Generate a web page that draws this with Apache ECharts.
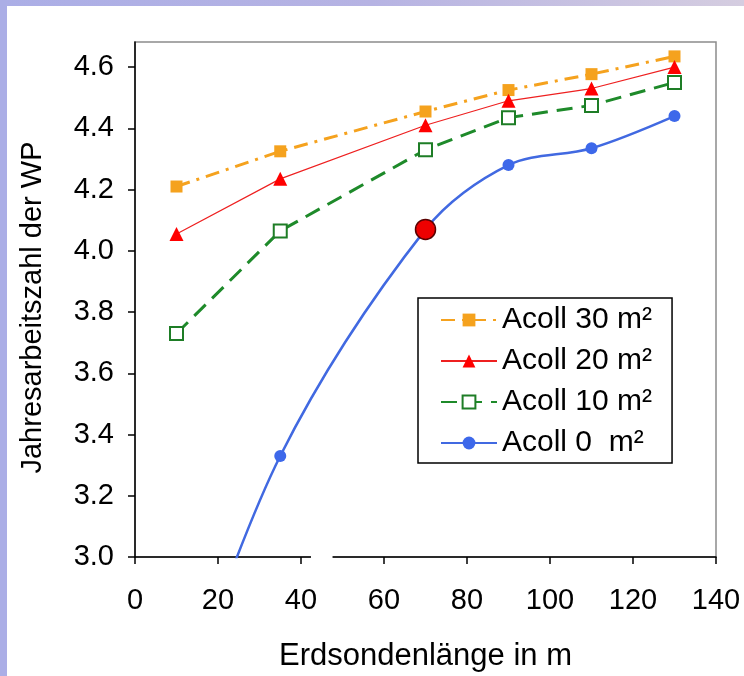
<!DOCTYPE html>
<html>
<head>
<meta charset="utf-8">
<script src="https://cdn.jsdelivr.net/npm/echarts@6/dist/echarts.min.js"></script>
<style>
html,body{margin:0;padding:0;background:#fff;}
#c{width:744px;height:676px;}
</style>
</head>
<body>
<div id="c"></div>
<script>
const xValues = [10, 35, 70, 90, 110, 130];
const acoll30 = [4.21, 4.325, 4.455, 4.525, 4.577, 4.635];
const acoll20 = [4.055, 4.235, 4.41, 4.49, 4.53, 4.60];
const acoll10 = [3.73, 4.065, 4.33, 4.435, 4.475, 4.55];
const acoll0  = [2.45, 3.33, 4.07, 4.28, 4.335, 4.44];
const highlightX = 70;
const seriesNames = ['Acoll 30 m²', 'Acoll 20 m²', 'Acoll 10 m²', 'Acoll 0  m²'];
const yTicks = [3.0, 3.2, 3.4, 3.6, 3.8, 4.0, 4.2, 4.4, 4.6];
const xTicks = [0, 20, 40, 60, 80, 100, 120, 140];

const FONT = 'Liberation Sans';
const pairs = (ys) => xValues.map((x, i) => [x, ys[i]]);

const chart = echarts.init(document.getElementById('c'), null, {renderer: 'canvas'});

const blueData = xValues.map((x, i) => {
  if (x === highlightX) {
    return {value: [x, acoll0[i]], symbolSize: 20,
      itemStyle: {color: '#ee0000', borderColor: '#5a0000', borderWidth: 1.5}};
  }
  return [x, acoll0[i]];
});

const option = {
  backgroundColor: '#ffffff',
  animation: false,
  textStyle: {fontFamily: FONT},
  grid: {left: 135, right: 28, top: 42, bottom: 119, show: true, containLabel: false,
    outerBoundsMode: 'none',
    borderColor: '#8c8c8c', borderWidth: 1.5, backgroundColor: 'transparent'},
  xAxis: {
    type: 'value', min: xTicks[0], max: xTicks[xTicks.length - 1], interval: 20,
    axisLine: {lineStyle: {color: '#000', width: 1.5}},
    axisTick: {show: true, inside: false, length: 7, lineStyle: {color: '#000', width: 1.5}},
    axisLabel: {fontSize: 29, color: '#000', margin: 29, fontFamily: FONT},
    splitLine: {show: false},
    name: 'Erdsondenlänge in m', nameLocation: 'middle', nameGap: 84,
    nameTextStyle: {fontSize: 31, color: '#000', fontFamily: FONT}
  },
  yAxis: {
    type: 'value', min: 3.0, max: 4.682, interval: 0.2,
    axisLine: {show: true, lineStyle: {color: '#000', width: 1.5}},
    axisTick: {show: true, inside: false, length: 7, customValues: yTicks, lineStyle: {color: '#000', width: 1.5}},
    axisLabel: {fontSize: 29, color: '#000', margin: 21, customValues: yTicks,
      formatter: (v) => Number(v).toFixed(1), fontFamily: FONT},
    splitLine: {show: false},
    name: 'Jahresarbeitszahl der WP', nameLocation: 'middle', nameGap: 88, nameRotate: 90,
    nameTextStyle: {fontSize: 29, color: '#000', fontFamily: FONT, padding: [0, 16, 0, 0]}
  },
  legend: {
    data: seriesNames,
    orient: 'vertical', left: 418, top: 298,
    itemWidth: 56, itemHeight: 16, itemGap: 11,
    padding: [7, 20, 5, 22],
    borderColor: '#000', borderWidth: 1.5, backgroundColor: '#fff',
    textStyle: {fontSize: 30, color: '#000', fontFamily: FONT, lineHeight: 30}
  },
  series: [
    {name: seriesNames[0], type: 'line', data: pairs(acoll30), symbol: 'rect', symbolSize: 12,
      itemStyle: {color: '#f5a21e'}, lineStyle: {color: '#f5a21e', width: 3, type: [14, 7, 3, 7]}, z: 4},
    {name: seriesNames[1], type: 'line', data: pairs(acoll20), symbol: 'triangle', symbolSize: 14,
      itemStyle: {color: '#ff0000'}, lineStyle: {color: '#ee2020', width: 1.2}, z: 5},
    {name: seriesNames[2], type: 'line', data: pairs(acoll10), symbol: 'rect', symbolSize: 13,
      itemStyle: {color: '#ffffff', borderColor: '#1e7d26', borderWidth: 2},
      lineStyle: {color: '#1e8a2a', width: 3, type: [16, 9]}, z: 3},
    {name: seriesNames[3], type: 'line', data: blueData, symbol: 'circle', symbolSize: 12,
      smooth: 0.33, clip: true,
      itemStyle: {color: '#3d68ea'}, lineStyle: {color: '#4169e1', width: 2.5}, z: 6}
  ],
  graphic: [
    {type: 'rect', shape: {x: 0, y: 0, width: 744, height: 6}, silent: true, z: 100,
      style: {fill: new echarts.graphic.LinearGradient(0, 0, 1, 0, [
        {offset: 0, color: '#abaee6'}, {offset: 0.5, color: '#b6b3e3'}, {offset: 1, color: '#d5cde0'}])}},
    {type: 'rect', shape: {x: 0, y: 0, width: 7, height: 676}, silent: true, z: 100,
      style: {fill: '#abaee6'}}
  ]
};
chart.setOption(option);

// small break in the x axis line, as in the reference
const g1 = chart.convertToPixel({xAxisIndex: 0, yAxisIndex: 0}, [42.4, 3.0]);
const g2 = chart.convertToPixel({xAxisIndex: 0, yAxisIndex: 0}, [47.6, 3.0]);
chart.setOption({graphic: option.graphic.concat([
  {type: 'rect', shape: {x: g1[0], y: g1[1] - 3, width: g2[0] - g1[0], height: 6},
    silent: true, z: 100, style: {fill: '#ffffff'}}
])});
</script>
</body>
</html>
